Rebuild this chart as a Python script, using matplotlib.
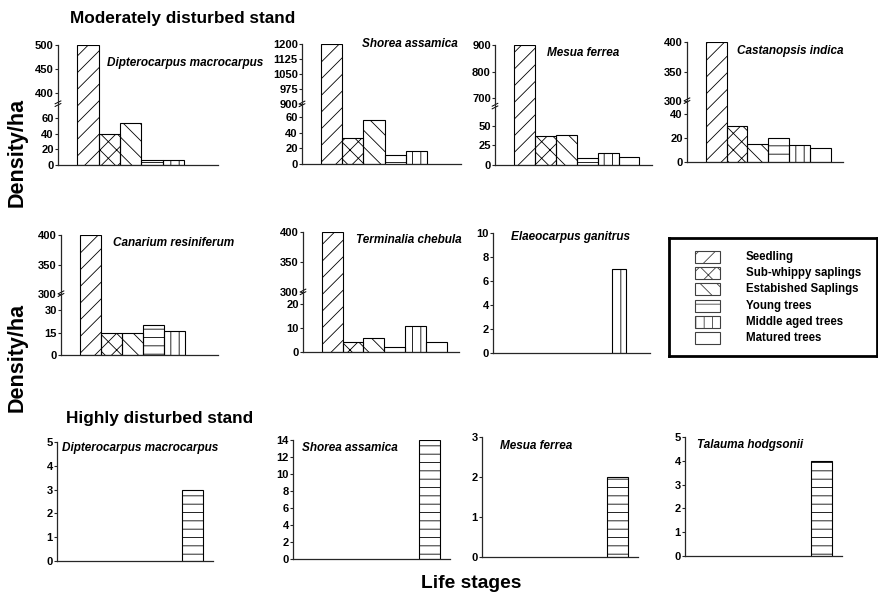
import numpy as np
import matplotlib
matplotlib.use('Agg')
import matplotlib.pyplot as plt
from matplotlib.patches import Rectangle

# stages (legend order)
stages = ['Seedling', 'Sub-whippy saplings', 'Estabished Saplings',
          'Young trees', 'Middle aged trees', 'Matured trees']
hatches = ['//', 'xx', '\\\\', '--', '||', '']

# densities per ha, moderately disturbed stand
mod_dipterocarpus = [500, 39, 53, 6, 6, 0]
mod_shorea = [1200, 33, 56, 11, 16, 0]
mod_mesua = [900, 37, 39, 9, 16, 10]
mod_castanopsis = [400, 30, 15, 20, 14, 12]
mod_canarium = [400, 15, 15, 20, 16, 0]
mod_terminalia = [400, 4, 6, 2, 11, 4]
mod_elaeocarpus = [0, 0, 0, 0, 7, 0]

# highly disturbed stand
high_dipterocarpus = [0, 0, 0, 0, 0, 3]
high_shorea = [0, 0, 0, 0, 0, 14]
high_mesua = [0, 0, 0, 0, 0, 2]
high_talauma = [0, 0, 0, 0, 0, 4]

# y ticks
ticks_dipterocarpus = [0, 20, 40, 60, 400, 450, 500]
ticks_shorea = [0, 20, 40, 60, 900, 975, 1050, 1125, 1200]
ticks_mesua = [0, 25, 50, 700, 800, 900]
ticks_castanopsis = [0, 20, 40, 300, 350, 400]
ticks_canarium = [0, 15, 30, 300, 350, 400]
ticks_terminalia = [0, 10, 20, 300, 350, 400]

plt.rcParams['font.family'] = ['Liberation Sans', 'DejaVu Sans']
plt.rcParams['font.weight'] = 'bold'
plt.rcParams['hatch.linewidth'] = 0.6
plt.rcParams['hatch.color'] = '0.2'

W, H = 879, 598
fig = plt.figure(figsize=(W / 100, H / 100), dpi=100)


def box(l, t, r, b):
    return [l / W, 1 - b / H, (r - l) / W, (b - t) / H]


def panel(rect, values, ticks, title, tx, ty, brk=None, xlim=(-1.4, 6.1),
          width=1.0, hatch=None):
    ax = fig.add_axes(box(*rect))
    top = ticks[-1]
    if brk is not None:
        lo, hi, f_lo, f_hi, mark = brk
        xp = [0, lo, hi, top]
        fp = [0, f_lo, f_hi, 1]
        ax.set_yscale('function', functions=(lambda y: np.interp(y, xp, fp),
                                             lambda t: np.interp(t, fp, xp)))
    x = np.arange(len(values))
    for i, v in enumerate(values):
        if v <= 0:
            continue
        h = hatches[i] if hatch is None else hatch
        ax.bar(x[i], v, width=width, fill=False, hatch=h,
               edgecolor='black', linewidth=0.8)
    ax.set_ylim(0, top)
    ax.set_xlim(*xlim)
    ax.set_yticks(ticks)
    ax.set_yticklabels([str(t) for t in ticks])
    ax.set_xticks([])
    for s in ['top', 'right']:
        ax.spines[s].set_visible(False)
    for s in ['left', 'bottom']:
        ax.spines[s].set_linewidth(0.9)
        ax.spines[s].set_color('0.15')
    ax.tick_params(axis='y', length=2.5, width=0.8, pad=0.5, labelsize=8,
                   color='0.15')
    if brk is not None:
        m = brk[4]
        for d in (0, 0.022):
            ax.plot([-0.018, 0.018], [m - 0.012 + d, m + 0.012 + d],
                    transform=ax.transAxes, clip_on=False,
                    color='black', linewidth=0.7)
    fig.text(tx / W, 1 - ty / H, title, fontsize=8.5, style='italic',
             fontweight='bold', va='center', ha='left')
    return ax


# moderately disturbed, row 1
panel((58, 45, 218, 165), mod_dipterocarpus, ticks_dipterocarpus,
      'Dipterocarpus macrocarpus', 107, 63, brk=(60, 400, 0.392, 0.60, 0.50))
panel((302, 44, 461, 164), mod_shorea, ticks_shorea,
      'Shorea assamica', 362, 44, brk=(60, 900, 0.392, 0.50, 0.49))
panel((495, 45, 652, 165), mod_mesua, ticks_mesua,
      'Mesua ferrea', 547, 53, brk=(50, 700, 0.325, 0.558, 0.48))
panel((687, 42, 843, 162), mod_castanopsis, ticks_castanopsis,
      'Castanopsis indica', 737, 51, brk=(40, 300, 0.40, 0.508, 0.50))

# row 2
panel((61, 235, 218, 355), mod_canarium, ticks_canarium,
      'Canarium resiniferum', 113, 243, brk=(30, 300, 0.375, 0.508, 0.50))
panel((303, 232, 459, 352), mod_terminalia, ticks_terminalia,
      'Terminalia chebula', 356, 240, brk=(20, 300, 0.40, 0.50, 0.49))
panel((493, 233, 650, 353), mod_elaeocarpus, [0, 2, 4, 6, 8, 10],
      'Elaeocarpus ganitrus', 511, 237, xlim=(-2.0, 5.5), width=0.67)

# highly disturbed, row 3
panel((57, 442, 213, 561), high_dipterocarpus, [0, 1, 2, 3, 4, 5],
      'Dipterocarpus macrocarpus', 62, 448, xlim=(-1.5, 6.0), hatch='--')
panel((293, 440, 450, 559), high_shorea, [0, 2, 4, 6, 8, 10, 12, 14],
      'Shorea assamica', 302, 448, xlim=(-1.5, 6.0), hatch='--')
panel((482, 437, 638, 557), high_mesua, [0, 1, 2, 3],
      'Mesua ferrea', 500, 446, xlim=(-1.5, 6.0), hatch='--')
panel((685, 437, 842, 556), high_talauma, [0, 1, 2, 3, 4, 5],
      'Talauma hodgsonii', 697, 445, xlim=(-1.5, 6.0), hatch='--')

# legend box
lg = fig.add_axes(box(669, 238, 877, 356))
lg.set_xlim(0, 208)
lg.set_ylim(118, 0)
lg.set_xticks([])
lg.set_yticks([])
for s in lg.spines.values():
    s.set_linewidth(2)
for i, (name, h) in enumerate(zip(stages, hatches)):
    cy = 19 + 16.2 * i
    lg.add_patch(Rectangle((26, cy - 6), 25, 12, fill=False, hatch=h,
                           edgecolor='0.25', linewidth=0.8))
    lg.text(77, cy, name, fontsize=8.3, fontweight='bold', va='center')

# headings
fig.text(70 / W, 1 - 18 / H, 'Moderately disturbed stand', fontsize=12.4,
         fontweight='bold', va='center')
fig.text(66 / W, 1 - 418 / H, 'Highly disturbed stand', fontsize=12.4,
         fontweight='bold', va='center')
fig.text(17 / W, 1 - 152 / H, 'Density/ha', fontsize=15.5, fontweight='bold',
         rotation=90, va='center', ha='center')
fig.text(17 / W, 1 - 357 / H, 'Density/ha', fontsize=15.5, fontweight='bold',
         rotation=90, va='center', ha='center')
fig.text(471 / W, 1 - 583 / H, 'Life stages', fontsize=13.9,
         fontweight='bold', va='center', ha='center')

fig.savefig('out.png', dpi=100)
